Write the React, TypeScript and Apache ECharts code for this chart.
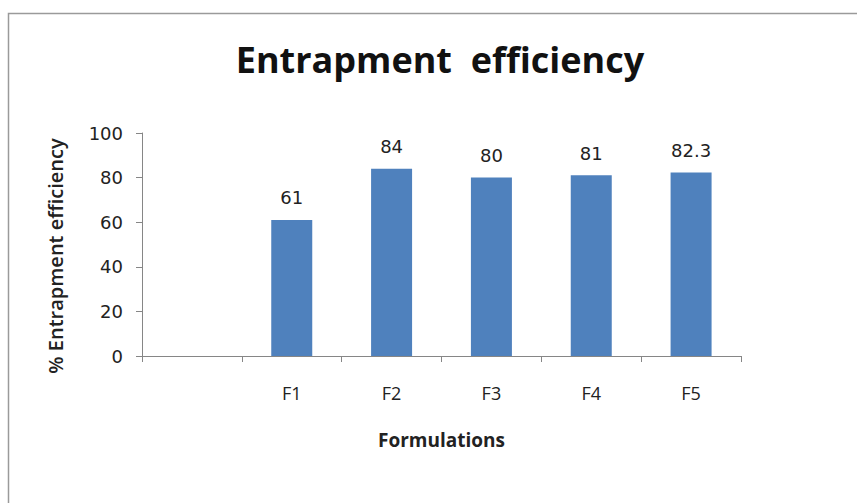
import React, { useEffect, useRef } from "react";
import * as echarts from "echarts";

const categories = ["", "F1", "F2", "F3", "F4", "F5"];
const values: (number | null)[] = [null, 61, 84, 80, 81, 82.3];
const yTicks = { min: 0, max: 100, interval: 20 };
const titleText = "Entrapment  efficiency";
const yAxisTitle = "% Entrapment efficiency";
const xAxisTitle = "Formulations";

export default function App() {
  const ref = useRef<HTMLDivElement>(null);
  useEffect(() => {
    if (!ref.current) return;
    const chart = echarts.init(ref.current, null, { renderer: "svg" });
    chart.setOption({
      animation: false,
      backgroundColor: "#ffffff",
      title: {
        text: titleText,
        left: 435,
        top: 36,
        textAlign: "center",
        textStyle: {
          fontFamily: "Open Sans",
          fontWeight: "bold",
          fontSize: 36,
          color: "#111111",
        },
      },
      grid: { left: 142, right: 116, top: 133, bottom: 147 },
      xAxis: {
        type: "category",
        data: categories,
        boundaryGap: true,
        name: xAxisTitle,
        nameLocation: "middle",
        nameGap: 74,
        nameTextStyle: {
          fontFamily: "Open Sans",
          fontWeight: "bold",
          fontSize: 19,
          color: "#222222",
        },
        axisLine: { show: true, lineStyle: { color: "#868686", width: 1 } },
        axisTick: { show: true, interval: 0, length: 6, lineStyle: { color: "#868686" } },
        axisLabel: {
          interval: 0,
          margin: 28,
          fontFamily: "Open Sans",
          fontSize: 18,
          color: "#222222",
        },
        splitLine: { show: false },
      },
      yAxis: {
        type: "value",
        min: yTicks.min,
        max: yTicks.max,
        interval: yTicks.interval,
        axisLine: { show: true, lineStyle: { color: "#868686", width: 1 } },
        axisTick: { show: true, length: 6, lineStyle: { color: "#868686" } },
        axisLabel: {
          margin: 19,
          fontFamily: "DejaVu Sans",
          fontSize: 18,
          color: "#222222",
        },
        splitLine: { show: false },
      },
      series: [
        {
          type: "bar",
          data: values,
          barWidth: 41,
          itemStyle: { color: "#4F81BD" },
          label: {
            show: true,
            position: "top",
            distance: 13,
            fontFamily: "DejaVu Sans",
            fontSize: 18,
            color: "#222222",
          },
        },
      ],
      graphic: [
        {
          type: "rect",
          shape: { x: 8.5, y: 13.5, width: 900, height: 600 },
          style: { fill: "none", stroke: "#9a9a9a", lineWidth: 1.5 },
          silent: true,
        },
        {
          type: "text",
          x: 55,
          y: 256,
          rotation: Math.PI / 2,
          style: {
            text: yAxisTitle,
            fontFamily: "Open Sans",
            fontWeight: 600,
            fontSize: 20,
            fill: "#222222",
            textAlign: "center",
            textVerticalAlign: "middle",
          },
        },
      ],
    });
    return () => chart.dispose();
  }, []);
  return (
    <div
      ref={ref}
      style={{ position: "fixed", left: 0, top: 0, width: 857, height: 503 }}
    />
  );
}
